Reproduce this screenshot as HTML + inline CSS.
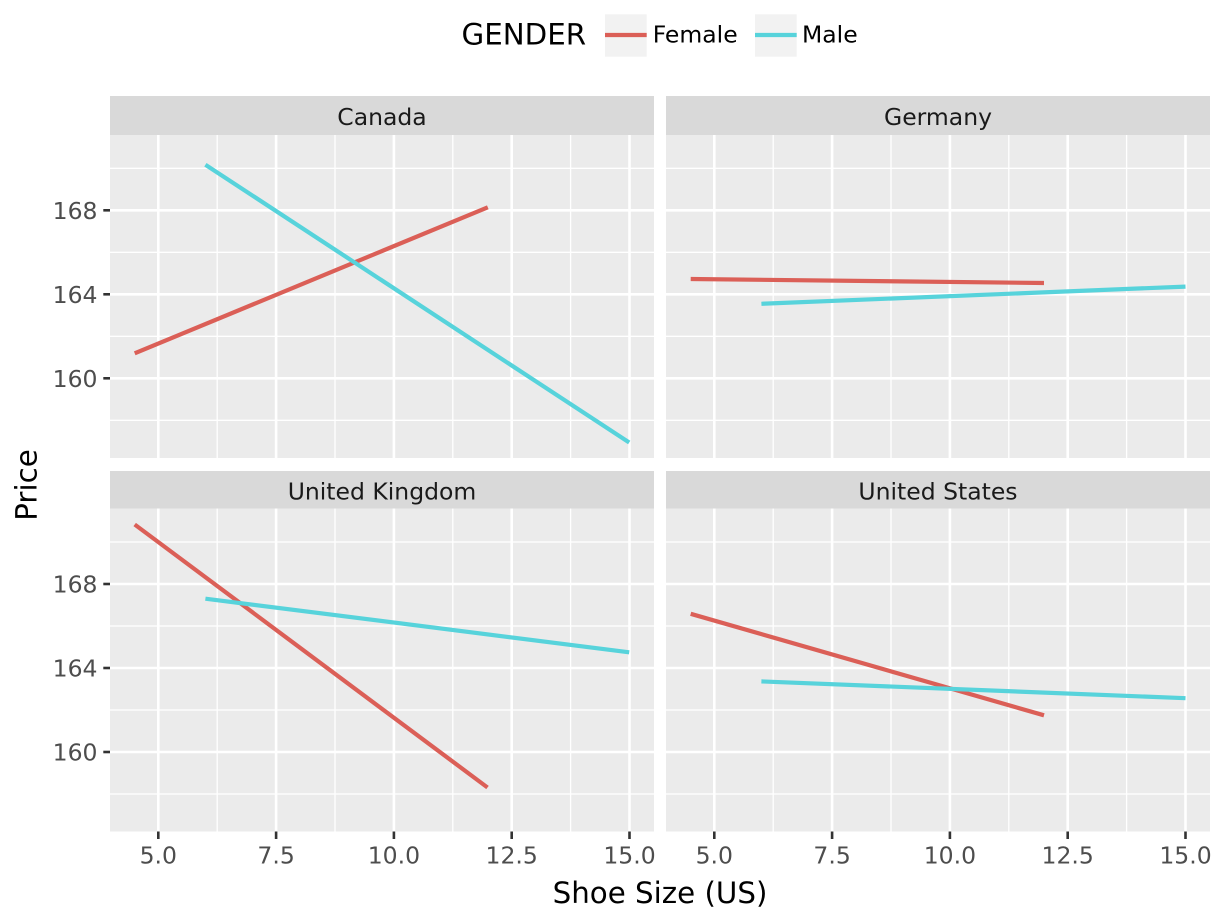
<!DOCTYPE html>
<html>
<head>
<meta charset="utf-8">
<style>
html,body{margin:0;padding:0;background:#fff;}
svg{display:block;}
text{font-family:"DejaVu Sans","Liberation Sans",sans-serif;}
</style>
</head>
<body>
<svg width="1228" height="921" viewBox="0 0 1228 921" xmlns="http://www.w3.org/2000/svg">
<rect x="0" y="0" width="1228" height="921" fill="#ffffff"/>

<!-- Legend -->
<text x="461.5" y="44.3" font-size="29.3" fill="#000">GENDER</text>
<rect x="605" y="14.3" width="41.7" height="42.4" fill="#f2f2f2"/>
<line x1="605" y1="35" x2="646.7" y2="35" stroke="#db5f57" stroke-width="4.2"/>
<text x="652.7" y="42.7" font-size="23.5" fill="#000">Female</text>
<rect x="755" y="14.3" width="41.7" height="42.4" fill="#f2f2f2"/>
<line x1="755" y1="35" x2="796.7" y2="35" stroke="#57d3db" stroke-width="4.2"/>
<text x="802" y="42.7" font-size="23.5" fill="#000">Male</text>

<!-- Panel backgrounds -->
<rect x="110" y="135" width="544" height="323" fill="#ebebeb"/>
<rect x="666" y="135" width="544" height="323" fill="#ebebeb"/>
<rect x="110" y="508.5" width="544" height="323" fill="#ebebeb"/>
<rect x="666" y="508.5" width="544" height="323" fill="#ebebeb"/>

<!-- Strips -->
<rect x="110" y="96" width="544" height="39" fill="#d9d9d9"/>
<rect x="666" y="96" width="544" height="39" fill="#d9d9d9"/>
<rect x="110" y="471" width="544" height="37.5" fill="#d9d9d9"/>
<rect x="666" y="471" width="544" height="37.5" fill="#d9d9d9"/>
<text x="382" y="124.8" font-size="23.5" fill="#1a1a1a" text-anchor="middle">Canada</text>
<text x="938" y="124.8" font-size="23.5" fill="#1a1a1a" text-anchor="middle">Germany</text>
<text x="382" y="499.3" font-size="23.5" fill="#1a1a1a" text-anchor="middle">United Kingdom</text>
<text x="938" y="499.3" font-size="23.5" fill="#1a1a1a" text-anchor="middle">United States</text>

<!-- Gridlines -->
<g stroke="#ffffff" fill="none">
  <g stroke-width="1.3">
    <line x1="110" y1="168.3" x2="654" y2="168.3"/><line x1="110" y1="252.3" x2="654" y2="252.3"/>
    <line x1="110" y1="336.3" x2="654" y2="336.3"/><line x1="110" y1="420.3" x2="654" y2="420.3"/>
    <line x1="666" y1="168.3" x2="1210" y2="168.3"/><line x1="666" y1="252.3" x2="1210" y2="252.3"/>
    <line x1="666" y1="336.3" x2="1210" y2="336.3"/><line x1="666" y1="420.3" x2="1210" y2="420.3"/>
    <line x1="110" y1="542" x2="654" y2="542"/><line x1="110" y1="626" x2="654" y2="626"/>
    <line x1="110" y1="710" x2="654" y2="710"/><line x1="110" y1="794" x2="654" y2="794"/>
    <line x1="666" y1="542" x2="1210" y2="542"/><line x1="666" y1="626" x2="1210" y2="626"/>
    <line x1="666" y1="710" x2="1210" y2="710"/><line x1="666" y1="794" x2="1210" y2="794"/>
    <line x1="217.2" y1="135" x2="217.2" y2="458"/><line x1="335" y1="135" x2="335" y2="458"/>
    <line x1="452.8" y1="135" x2="452.8" y2="458"/><line x1="570.6" y1="135" x2="570.6" y2="458"/>
    <line x1="773.2" y1="135" x2="773.2" y2="458"/><line x1="891" y1="135" x2="891" y2="458"/>
    <line x1="1008.8" y1="135" x2="1008.8" y2="458"/><line x1="1126.6" y1="135" x2="1126.6" y2="458"/>
    <line x1="217.2" y1="508.5" x2="217.2" y2="831.5"/><line x1="335" y1="508.5" x2="335" y2="831.5"/>
    <line x1="452.8" y1="508.5" x2="452.8" y2="831.5"/><line x1="570.6" y1="508.5" x2="570.6" y2="831.5"/>
    <line x1="773.2" y1="508.5" x2="773.2" y2="831.5"/><line x1="891" y1="508.5" x2="891" y2="831.5"/>
    <line x1="1008.8" y1="508.5" x2="1008.8" y2="831.5"/><line x1="1126.6" y1="508.5" x2="1126.6" y2="831.5"/>
  </g>
  <g stroke-width="2.6">
    <line x1="110" y1="210.3" x2="654" y2="210.3"/><line x1="110" y1="294.3" x2="654" y2="294.3"/>
    <line x1="110" y1="378.3" x2="654" y2="378.3"/>
    <line x1="666" y1="210.3" x2="1210" y2="210.3"/><line x1="666" y1="294.3" x2="1210" y2="294.3"/>
    <line x1="666" y1="378.3" x2="1210" y2="378.3"/>
    <line x1="110" y1="584" x2="654" y2="584"/><line x1="110" y1="668" x2="654" y2="668"/>
    <line x1="110" y1="752" x2="654" y2="752"/>
    <line x1="666" y1="584" x2="1210" y2="584"/><line x1="666" y1="668" x2="1210" y2="668"/>
    <line x1="666" y1="752" x2="1210" y2="752"/>
    <line x1="158.3" y1="135" x2="158.3" y2="458"/><line x1="276.1" y1="135" x2="276.1" y2="458"/>
    <line x1="393.9" y1="135" x2="393.9" y2="458"/><line x1="511.7" y1="135" x2="511.7" y2="458"/>
    <line x1="629.5" y1="135" x2="629.5" y2="458"/>
    <line x1="714.3" y1="135" x2="714.3" y2="458"/><line x1="832.1" y1="135" x2="832.1" y2="458"/>
    <line x1="949.9" y1="135" x2="949.9" y2="458"/><line x1="1067.7" y1="135" x2="1067.7" y2="458"/>
    <line x1="1185.5" y1="135" x2="1185.5" y2="458"/>
    <line x1="158.3" y1="508.5" x2="158.3" y2="831.5"/><line x1="276.1" y1="508.5" x2="276.1" y2="831.5"/>
    <line x1="393.9" y1="508.5" x2="393.9" y2="831.5"/><line x1="511.7" y1="508.5" x2="511.7" y2="831.5"/>
    <line x1="629.5" y1="508.5" x2="629.5" y2="831.5"/>
    <line x1="714.3" y1="508.5" x2="714.3" y2="831.5"/><line x1="832.1" y1="508.5" x2="832.1" y2="831.5"/>
    <line x1="949.9" y1="508.5" x2="949.9" y2="831.5"/><line x1="1067.7" y1="508.5" x2="1067.7" y2="831.5"/>
    <line x1="1185.5" y1="508.5" x2="1185.5" y2="831.5"/>
  </g>
</g>

<!-- Data lines -->
<g stroke-width="4.2" fill="none" stroke-linecap="butt">
  <line x1="134.7" y1="353.3" x2="487.8" y2="207.3" stroke="#db5f57"/>
  <line x1="205.4" y1="164.7" x2="629.2" y2="442.5" stroke="#57d3db"/>
  <line x1="690.7" y1="279" x2="1044" y2="283" stroke="#db5f57"/>
  <line x1="761.4" y1="303.8" x2="1185.5" y2="286.6" stroke="#57d3db"/>
  <line x1="134.7" y1="524.5" x2="487.5" y2="787.5" stroke="#db5f57"/>
  <line x1="205.4" y1="598.7" x2="629.2" y2="652.3" stroke="#57d3db"/>
  <line x1="690.7" y1="613.8" x2="1044" y2="715.3" stroke="#db5f57"/>
  <line x1="761.4" y1="681.4" x2="1185.5" y2="698.2" stroke="#57d3db"/>
</g>

<!-- Ticks -->
<g stroke="#333333" stroke-width="2.6">
  <line x1="103.3" y1="210.3" x2="110" y2="210.3"/>
  <line x1="103.3" y1="294.3" x2="110" y2="294.3"/>
  <line x1="103.3" y1="378.3" x2="110" y2="378.3"/>
  <line x1="103.3" y1="584" x2="110" y2="584"/>
  <line x1="103.3" y1="668" x2="110" y2="668"/>
  <line x1="103.3" y1="752" x2="110" y2="752"/>
  <line x1="158.3" y1="831.5" x2="158.3" y2="839"/>
  <line x1="276.1" y1="831.5" x2="276.1" y2="839"/>
  <line x1="393.9" y1="831.5" x2="393.9" y2="839"/>
  <line x1="511.7" y1="831.5" x2="511.7" y2="839"/>
  <line x1="629.5" y1="831.5" x2="629.5" y2="839"/>
  <line x1="714.3" y1="831.5" x2="714.3" y2="839"/>
  <line x1="832.1" y1="831.5" x2="832.1" y2="839"/>
  <line x1="949.9" y1="831.5" x2="949.9" y2="839"/>
  <line x1="1067.7" y1="831.5" x2="1067.7" y2="839"/>
  <line x1="1185.5" y1="831.5" x2="1185.5" y2="839"/>
</g>

<!-- Y tick labels -->
<g font-size="23.5" fill="#4d4d4d" text-anchor="end">
  <text x="97.5" y="218.8">168</text>
  <text x="97.5" y="302.8">164</text>
  <text x="97.5" y="386.8">160</text>
  <text x="97.5" y="592.5">168</text>
  <text x="97.5" y="676.5">164</text>
  <text x="97.5" y="760.5">160</text>
</g>

<!-- X tick labels -->
<g font-size="23.5" fill="#4d4d4d" text-anchor="middle">
  <text x="158.3" y="863.3">5.0</text>
  <text x="276.1" y="863.3">7.5</text>
  <text x="393.9" y="863.3">10.0</text>
  <text x="511.7" y="863.3">12.5</text>
  <text x="629.5" y="863.3">15.0</text>
  <text x="714.3" y="863.3">5.0</text>
  <text x="832.1" y="863.3">7.5</text>
  <text x="949.9" y="863.3">10.0</text>
  <text x="1067.7" y="863.3">12.5</text>
  <text x="1185.5" y="863.3">15.0</text>
</g>

<!-- Axis titles -->
<text x="660" y="903" font-size="29.3" fill="#000" text-anchor="middle">Shoe Size (US)</text>
<text x="0" y="0" font-size="29.3" fill="#000" text-anchor="middle" transform="translate(36.5,485) rotate(-90)">Price</text>
</svg>
</body>
</html>
